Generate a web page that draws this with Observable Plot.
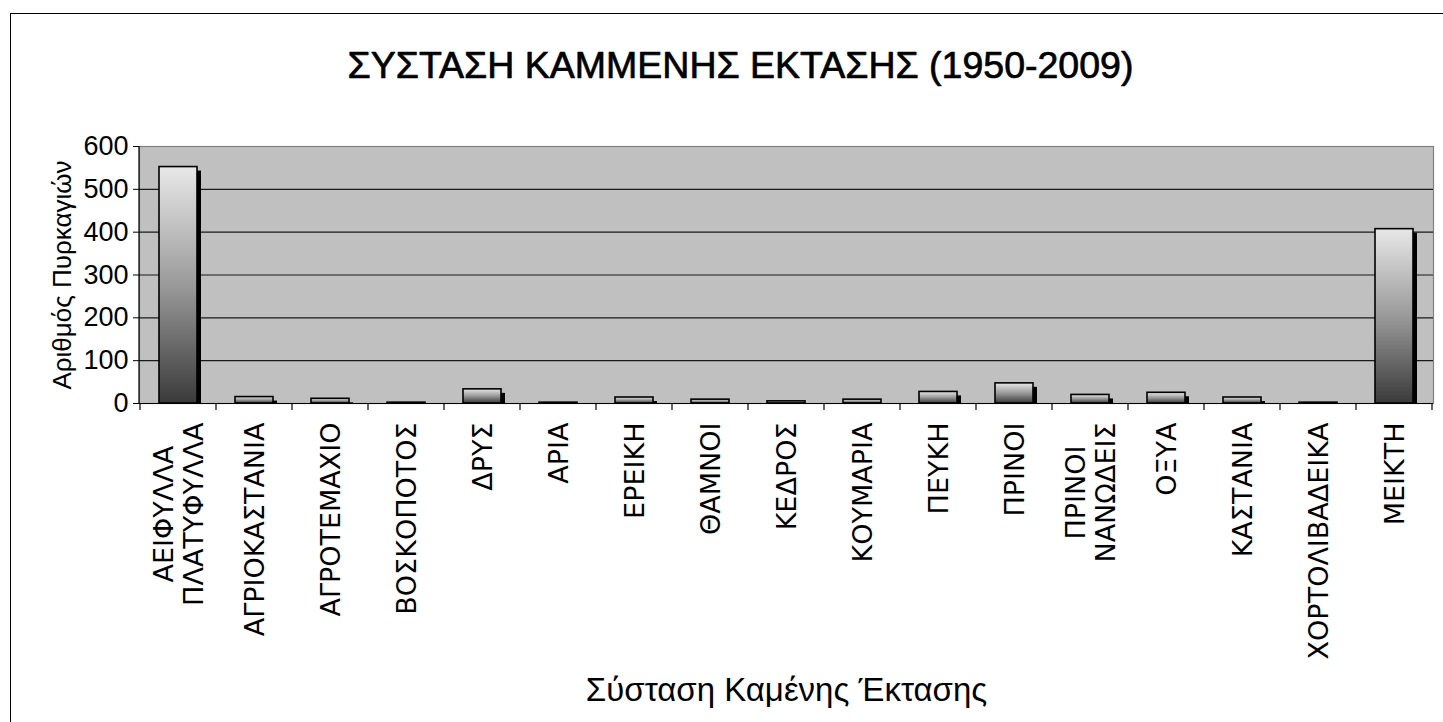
<!DOCTYPE html>
<html>
<head>
<meta charset="utf-8">
<script src="https://cdn.jsdelivr.net/npm/d3@7"></script>
<script src="https://cdn.jsdelivr.net/npm/@observablehq/plot@0.6"></script>
<style>
  html, body { margin: 0; padding: 0; background: white; }
  #wrap { position: relative; width: 1443px; height: 722px; overflow: hidden; }
  #border { position: absolute; left: 10px; top: 13px; width: 1450px; height: 730px; border: 1.5px solid black; box-sizing: border-box; pointer-events: none; }
</style>
</head>
<body>
<div id="wrap"><div id="border"></div></div>
<script>
const categories = ["ΑΕΙΦΥΛΛΑ\nΠΛΑΤΥΦΥΛΛΑ", "ΑΓΡΙΟΚΑΣΤΑΝΙΑ", "ΑΓΡΟΤΕΜΑΧΙΟ", "ΒΟΣΚΟΠΟΤΟΣ", "ΔΡΥΣ", "ΑΡΙΑ", "ΕΡΕΙΚΗ", "ΘΑΜΝΟΙ", "ΚΕΔΡΟΣ", "ΚΟΥΜΑΡΙΑ", "ΠΕΥΚΗ", "ΠΡΙΝΟΙ", "ΠΡΙΝΟΙ\nΝΑΝΩΔΕΙΣ", "ΟΞΥΑ", "ΚΑΣΤΑΝΙΑ", "ΧΟΡΤΟΛΙΒΑΔΕΙΚΑ", "ΜΕΙΚΤΗ"];
const values = [552, 15, 11, 2, 33, 2, 14, 9, 5, 9, 27, 47, 20, 25, 14, 2, 407];
const yTicks = [0, 100, 200, 300, 400, 500, 600];
const gridLines = [100, 200, 300, 400, 500];
const title = "ΣΥΣΤΑΣΗ ΚΑΜΜΕΝΗΣ ΕΚΤΑΣΗΣ (1950-2009)";
const yTitle = "Αριθμός Πυρκαγιών";
const xTitle = "Σύσταση Καμένης Έκτασης";

const data = categories.map((c, i) => ({category: c, value: values[i]}));

const defsMark = () => {
  const defs = d3.create("svg:defs");
  const g = defs.append("linearGradient").attr("id", "barGrad")
    .attr("x1", 0).attr("y1", 0).attr("x2", 0).attr("y2", 1);
  g.append("stop").attr("offset", "0%").attr("stop-color", "#e8e8e8");
  g.append("stop").attr("offset", "50%").attr("stop-color", "#9a9a9a");
  g.append("stop").attr("offset", "100%").attr("stop-color", "#3a3a3a");
  return defs.node();
};

const axisLinesMark = (index, scales, values, dims) => {
  const x = scales.x;
  const bw = x.bandwidth ? x.bandwidth() : (dims.width - dims.marginLeft - dims.marginRight) / categories.length / 2;
  const y0 = dims.height - dims.marginBottom;
  const g = d3.create("svg:g").attr("stroke", "black").attr("stroke-width", 1.2);
  g.append("line").attr("x1", dims.marginLeft).attr("x2", dims.marginLeft)
    .attr("y1", dims.marginTop).attr("y2", y0);
  const bounds = categories.map(c => x(c) - bw / 2);
  bounds.push(x(categories[categories.length - 1]) + bw * 1.5);
  g.selectAll("line.t").data(bounds).join("line").attr("class", "t")
    .attr("x1", d => d).attr("x2", d => d).attr("y1", y0).attr("y2", y0 + 7);
  return g.node();
};

const chart = Plot.plot({
  width: 1443,
  height: 722,
  marginLeft: 139,
  marginRight: 10,
  marginTop: 146,
  marginBottom: 319,
  style: {fontFamily: "'Liberation Sans', Arial, sans-serif", fontSize: "20px", color: "black", background: "transparent", overflow: "visible"},
  x: {domain: categories, paddingInner: 0.5, paddingOuter: 0.25, axis: null},
  y: {domain: [0, 600], axis: null},
  marks: [
    defsMark,
    Plot.frame({fill: "#c0c0c0", stroke: "#808080", strokeWidth: 1.2}),
    Plot.ruleY(gridLines, {stroke: "#1a1a1a", strokeWidth: 1.2}),
    Plot.barY(data, {x: "category", y: "value", fill: "black", dx: 4, insetTop: 4}),
    Plot.barY(data, {x: "category", y: "value", fill: "url(#barGrad)", stroke: "black", strokeWidth: 1.6}),
    Plot.ruleY([0], {stroke: "black", strokeWidth: 1.2}),
    axisLinesMark,
    Plot.axisY({ticks: yTicks, tickSize: 6, tickPadding: 5, fontSize: 27, label: null, tickFormat: d => String(d)}),
    Plot.text(data, {x: "category", text: "category", frameAnchor: "bottom", dy: 19, rotate: -90, textAnchor: "end", lineAnchor: "middle", fontSize: 27, fontFamily: "'DejaVu Sans', Verdana, sans-serif", lineHeight: 1.1, fill: "black"}),
    Plot.text([title], {frameAnchor: "top", dx: -46, dy: -81, lineAnchor: "middle", fontSize: 37.5, fill: "black", stroke: "black", strokeWidth: 0.7}),
    Plot.text([yTitle], {frameAnchor: "left", dx: -77, rotate: -90, textAnchor: "middle", lineAnchor: "middle", fontSize: 26, fill: "black"}),
    Plot.text([xTitle], {frameAnchor: "bottom", dy: 287, lineAnchor: "middle", fontSize: 33, fill: "black"})
  ]
});
chart.style.position = "absolute";
chart.style.left = "0px";
chart.style.top = "0px";
document.getElementById("wrap").appendChild(chart);

// center the lines of multi-line category labels against each other
chart.querySelectorAll("text").forEach(t => {
  const spans = t.querySelectorAll("tspan");
  if (spans.length < 2) return;
  const lens = Array.from(spans, s => s.getComputedTextLength());
  const L = Math.max(...lens);
  spans.forEach((s, i) => s.setAttribute("x", -(L - lens[i]) / 2));
});
</script>
</body>
</html>
